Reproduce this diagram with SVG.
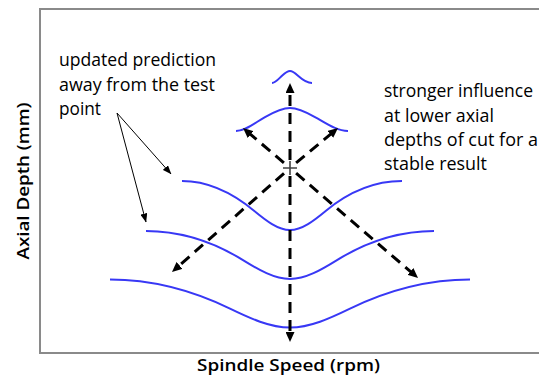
<svg xmlns="http://www.w3.org/2000/svg" width="539" height="376" viewBox="0 0 539 376">
<style>
.frame{fill:none;stroke:#8a8a8a;stroke-width:2}
.curve{fill:none;stroke:#3838f5;stroke-width:2}
.dash{fill:none;stroke:#000;stroke-width:3;stroke-dasharray:11 7;marker-end:url(#ah)}
.thin{fill:none;stroke:#000;stroke-width:1;marker-end:url(#sh)}
.plus{stroke:#444;stroke-width:1.6}
.t{font-family:"Open Sans","Liberation Sans",Arial,sans-serif;font-size:18px;fill:#000}
.ax{font-family:"Open Sans","Liberation Sans",Arial,sans-serif;font-size:17px;font-weight:600;fill:#000}
</style>
<defs>
<marker id="ah" markerUnits="userSpaceOnUse" markerWidth="10" markerHeight="9" refX="4" refY="4.5" orient="auto"><path d="M0,0 L10,4.5 L0,9 Z" fill="#000"/></marker>
<marker id="sh" markerUnits="userSpaceOnUse" markerWidth="9" markerHeight="7" refX="8.5" refY="3.5" orient="auto"><path d="M0,0 L9,3.5 L0,7 Z" fill="#000"/></marker>
</defs>
<rect class="frame" x="40" y="9" width="520" height="344"/>
<g id="axis-labels">
<text class="ax" x="288.5" y="371" text-anchor="middle" textLength="183" lengthAdjust="spacingAndGlyphs">Spindle Speed (rpm)</text>
<text class="ax" transform="translate(29,181) rotate(-90)" x="0" y="0" text-anchor="middle" textLength="157" lengthAdjust="spacingAndGlyphs">Axial Depth (mm)</text>
</g>
<g id="curve1"><path class="curve" d="M272,83 C275.3,83 278.7,78.8 282,75.7 C284.7,73.3 287.3,71 290,71 C292.7,71 295.3,73.3 298,75.7 C302.7,79.9 307.3,83 312,83"/></g>
<g id="curve2"><path class="curve" d="M236,131 C245.7,131 255.3,122.4 265,117.05 C273.3,112.4 281.7,108 290,108 C298.3,108 306.7,112.4 315,117.05 C326,123.2 337,131 348,131"/></g>
<g id="curve3"><path class="curve" d="M182,181 C206,181 230,190.9 254,210.7 C266,220.6 278,230 290,230 C302,230 314,220.6 326,210.7 C351.3,189.8 376.7,181 402,181"/></g>
<g id="curve4"><path class="curve" d="M146,231 C178.3,231 210.7,240.1 243,260.1 C258.7,269.8 274.3,279 290,279 C305.7,279 321.3,269.8 337,260.1 C369.3,240.1 401.7,231 434,231"/></g>
<g id="curve5"><path class="curve" d="M110,279.5 C150,279.5 190,289.2 230,308.6 C250,318.3 270,327.5 290,327.5 C310,327.5 330,318.3 350,308.6 C390,289.2 430,279.5 470,279.5"/></g>
<g id="test-point"><path class="plus" d="M283,168 H297 M290,161 V175"/></g>
<g id="connectors">
<path class="dash" d="M290,160 L290,89"/>
<path class="dash" d="M290,176 L290,336"/>
<path class="dash" d="M283.9,162.8 L247.6,131.9"/>
<path class="dash" d="M296.1,162.9 L333.4,131.8"/>
<path class="dash" d="M284,173.3 L176.5,268"/>
<path class="dash" d="M296.1,173.2 L413.5,274.1"/>
<path class="thin" d="M117,113 L171,174"/>
<path class="thin" d="M117,113 L146,222"/>
</g>
<g id="label-left">
<text class="t" x="59" y="66" textLength="157" lengthAdjust="spacingAndGlyphs">updated prediction</text>
<text class="t" x="59" y="90.5" textLength="156" lengthAdjust="spacingAndGlyphs">away from the test</text>
<text class="t" x="59" y="115" textLength="42" lengthAdjust="spacingAndGlyphs">point</text>
</g>
<g id="label-right">
<text class="t" x="384" y="97" textLength="149" lengthAdjust="spacingAndGlyphs">stronger influence</text>
<text class="t" x="384" y="121.5" textLength="110" lengthAdjust="spacingAndGlyphs">at lower axial</text>
<text class="t" x="384" y="146" textLength="154" lengthAdjust="spacingAndGlyphs">depths of cut for a</text>
<text class="t" x="384" y="170" textLength="103" lengthAdjust="spacingAndGlyphs">stable result</text>
</g>
</svg>
